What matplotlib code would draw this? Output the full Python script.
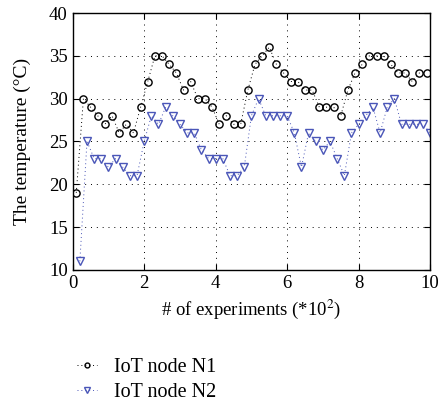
import numpy as np
import matplotlib
matplotlib.use('Agg')
import matplotlib.pyplot as plt
from matplotlib.lines import Line2D

# data
x_n1 = [0.1, 0.3, 0.5, 0.7, 0.9, 1.1, 1.3, 1.5, 1.7, 1.9,
        2.1, 2.3, 2.5, 2.7, 2.9, 3.1, 3.3, 3.5, 3.7, 3.9,
        4.1, 4.3, 4.5, 4.7, 4.9, 5.1, 5.3, 5.5, 5.7, 5.9,
        6.1, 6.3, 6.5, 6.7, 6.9, 7.1, 7.3, 7.5, 7.7, 7.9,
        8.1, 8.3, 8.5, 8.7, 8.9, 9.1, 9.3, 9.5, 9.7, 9.9]
temp_n1 = [19, 30, 29, 28, 27, 28, 26, 27, 26, 29,
           32, 35, 35, 34, 33, 31, 32, 30, 30, 29,
           27, 28, 27, 27, 31, 34, 35, 36, 34, 33,
           32, 32, 31, 31, 29, 29, 29, 28, 31, 33,
           34, 35, 35, 35, 34, 33, 33, 32, 33, 33]

x_n2 = [0.2, 0.4, 0.6, 0.8, 1.0, 1.2, 1.4, 1.6, 1.8, 2.0,
        2.2, 2.4, 2.6, 2.8, 3.0, 3.2, 3.4, 3.6, 3.8, 4.0,
        4.2, 4.4, 4.6, 4.8, 5.0, 5.2, 5.4, 5.6, 5.8, 6.0,
        6.2, 6.4, 6.6, 6.8, 7.0, 7.2, 7.4, 7.6, 7.8, 8.0,
        8.2, 8.4, 8.6, 8.8, 9.0, 9.2, 9.4, 9.6, 9.8, 10.0]
temp_n2 = [11, 25, 23, 23, 22, 23, 22, 21, 21, 25,
           28, 27, 29, 28, 27, 26, 26, 24, 23, 23,
           23, 21, 21, 22, 28, 30, 28, 28, 28, 28,
           26, 22, 26, 25, 24, 25, 23, 21, 26, 27,
           28, 29, 26, 29, 30, 27, 27, 27, 27, 26]

plt.rcParams['font.family'] = ['Liberation Serif', 'DejaVu Serif']
plt.rcParams['mathtext.fontset'] = 'stix'

fig = plt.figure(figsize=(4.38, 4.07), dpi=100)
ax = fig.add_axes([0.166, 0.337, 0.816, 0.631])

blue = '#4a56b8'
dots = (0, (1, 3))
ax.plot(x_n1, temp_n1, linestyle=dots, linewidth=0.7, color='black',
        marker='o', markersize=5.2, markerfacecolor='none',
        markeredgewidth=1.0)
ax.plot(x_n2, temp_n2, linestyle=dots, linewidth=0.7, color=blue,
        marker='v', markersize=5.8, markerfacecolor='none',
        markeredgewidth=1.0)

ax.set_xlim(0, 10)
ax.set_ylim(10, 40)
ax.set_xticks([0, 2, 4, 6, 8, 10])
ax.set_yticks([10, 15, 20, 25, 30, 35, 40])
ax.grid(True, color='black', linestyle=(0, (1, 5)), linewidth=0.7)
ax.tick_params(direction='in', top=True, right=True, labelsize=13.5, length=4)
for s in ax.spines.values():
    s.set_linewidth(1.0)

ax.set_xlabel(r'# of experiments (*10$^2$)', fontsize=13.5)
ax.set_ylabel('The temperature (°C)', fontsize=14, labelpad=13)

# legend with small markers like the original
h1 = Line2D([], [], linestyle=dots, linewidth=0.7, color='black', marker='o',
            markersize=3.5, markerfacecolor='none', markeredgewidth=1.0)
h2 = Line2D([], [], linestyle=dots, linewidth=0.7, color=blue, marker='v',
            markersize=4, markerfacecolor='none', markeredgewidth=1.0)
fig.legend([h1, h2], ['IoT node N1', 'IoT node N2'], loc='upper left',
           bbox_to_anchor=(0.135, 0.165), frameon=False, fontsize=14.5,
           handlelength=1.0, handletextpad=0.8, labelspacing=0.3)

fig.savefig('out.png', dpi=100)
